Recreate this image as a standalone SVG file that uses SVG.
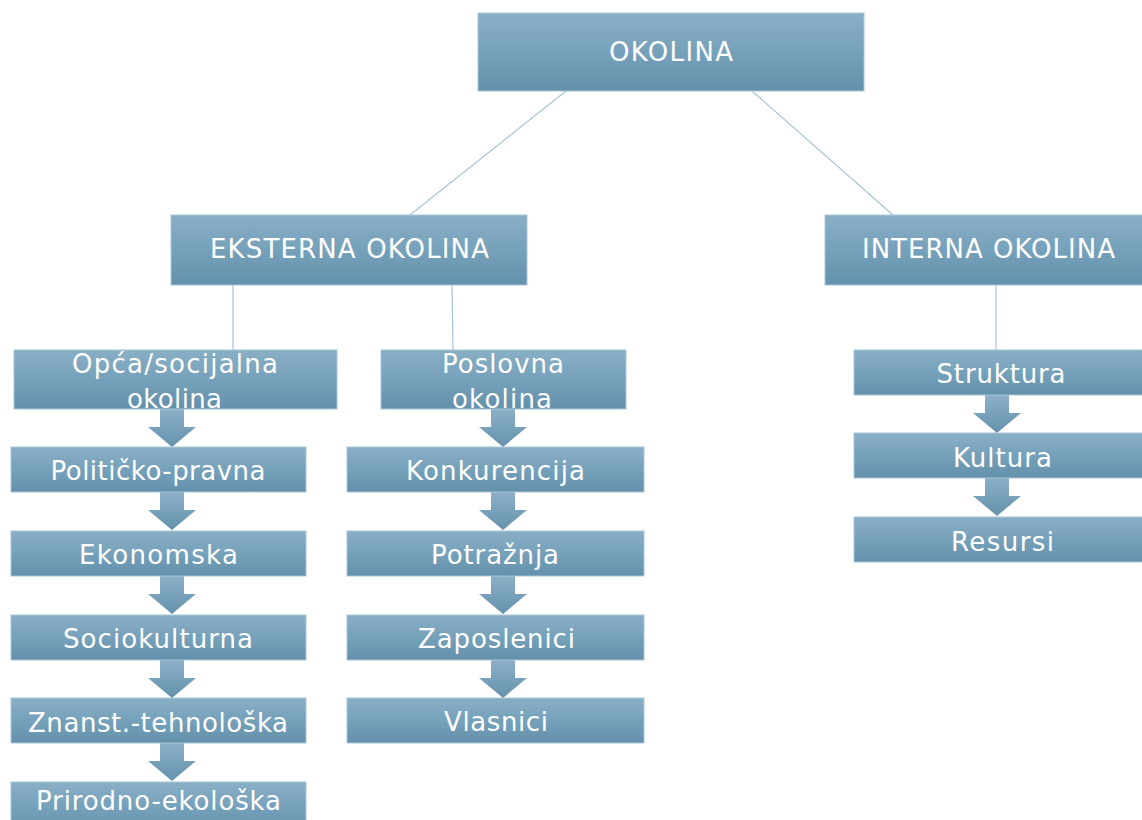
<svg xmlns="http://www.w3.org/2000/svg" width="1142" height="820" viewBox="0 0 1142 820">
<defs>
<linearGradient id="g" x1="0" y1="0" x2="0" y2="1">
<stop offset="0" stop-color="#89afc6"/>
<stop offset="0.5" stop-color="#76a1ba"/>
<stop offset="1" stop-color="#6390ab"/>
</linearGradient>
<linearGradient id="ga" x1="0" y1="0" x2="0" y2="1">
<stop offset="0" stop-color="#8bb0c7"/>
<stop offset="1" stop-color="#6592ad"/>
</linearGradient>
<path id="arr" d="M-12,0 L12,0 L12,18 L24,18 L0,38 L-24,18 L-12,18 Z" fill="url(#ga)"/>
<style>
.b{fill:url(#g);stroke:#a9c6d7;stroke-width:1}
.t{font-family:"DejaVu Sans",sans-serif;font-size:26px;fill:#ffffff;text-anchor:middle}
.c line{stroke:#a7c4d4;stroke-width:1.2}
</style>
</defs>
<rect width="1142" height="820" fill="#ffffff"/>
<g class="c" id="connectors">
<line x1="566" y1="91" x2="410" y2="215"/>
<line x1="752" y1="91" x2="893" y2="215"/>
<line x1="233" y1="285" x2="233" y2="350"/>
<line x1="452" y1="285" x2="453" y2="350"/>
<line x1="996" y1="285" x2="996" y2="350"/>
</g>
<g id="arrows">
<use href="#arr" x="172" y="409"/>
<use href="#arr" x="172" y="492"/>
<use href="#arr" x="172" y="576"/>
<use href="#arr" x="172" y="660"/>
<use href="#arr" x="172" y="743"/>
<use href="#arr" x="503" y="409"/>
<use href="#arr" x="503" y="492"/>
<use href="#arr" x="503" y="576"/>
<use href="#arr" x="503" y="660"/>
<use href="#arr" x="997" y="395"/>
<use href="#arr" x="997" y="478"/>
</g>
<g id="okolina"><rect class="b" x="478" y="13" width="386" height="78"/><text class="t" x="671" y="61" font-size="27" textLength="124">OKOLINA</text></g>
<g id="eksterna"><rect class="b" x="171" y="215" width="356" height="70"/><text class="t" x="349.5" y="258" textLength="279">EKSTERNA OKOLINA</text></g>
<g id="interna"><rect class="b" x="825" y="215" width="330" height="70"/><text class="t" x="988.5" y="258" textLength="253">INTERNA OKOLINA</text></g>
<g id="opca"><rect class="b" x="14" y="350" width="323" height="59"/><text class="t" x="175" y="373" textLength="206">Opća/socijalna</text><text class="t" x="174.5" y="408" textLength="95">okolina</text></g>
<g id="poslovna"><rect class="b" x="381" y="350" width="245" height="59"/><text class="t" x="503" y="373" textLength="122">Poslovna</text><text class="t" x="502" y="408" textLength="100">okolina</text></g>
<g id="politicko"><rect class="b" x="11" y="447" width="295" height="45"/><text class="t" x="158" y="480" textLength="215">Političko-pravna</text></g>
<g id="ekonomska"><rect class="b" x="11" y="531" width="295" height="45"/><text class="t" x="158.5" y="564" textLength="159">Ekonomska</text></g>
<g id="sociokulturna"><rect class="b" x="11" y="615" width="295" height="45"/><text class="t" x="158" y="648" textLength="190">Sociokulturna</text></g>
<g id="znanst"><rect class="b" x="11" y="698" width="295" height="45"/><text class="t" x="158" y="732" textLength="260">Znanst.-tehnološka</text></g>
<g id="prirodno"><rect class="b" x="11" y="782" width="295" height="50"/><text class="t" x="158.5" y="810" textLength="245">Prirodno-ekološka</text></g>
<g id="konkurencija"><rect class="b" x="347" y="447" width="297" height="45"/><text class="t" x="495.5" y="480" textLength="179">Konkurencija</text></g>
<g id="potraznja"><rect class="b" x="347" y="531" width="297" height="45"/><text class="t" x="495" y="564" textLength="128">Potražnja</text></g>
<g id="zaposlenici"><rect class="b" x="347" y="615" width="297" height="45"/><text class="t" x="496.5" y="648" textLength="157">Zaposlenici</text></g>
<g id="vlasnici"><rect class="b" x="347" y="698" width="297" height="45"/><text class="t" x="496" y="731" textLength="104">Vlasnici</text></g>
<g id="struktura"><rect class="b" x="854" y="350" width="300" height="45"/><text class="t" x="1001" y="383" textLength="129">Struktura</text></g>
<g id="kultura"><rect class="b" x="854" y="433" width="300" height="45"/><text class="t" x="1002.5" y="467" textLength="99">Kultura</text></g>
<g id="resursi"><rect class="b" x="854" y="517" width="300" height="45"/><text class="t" x="1002.5" y="551" textLength="103">Resursi</text></g>
</svg>
